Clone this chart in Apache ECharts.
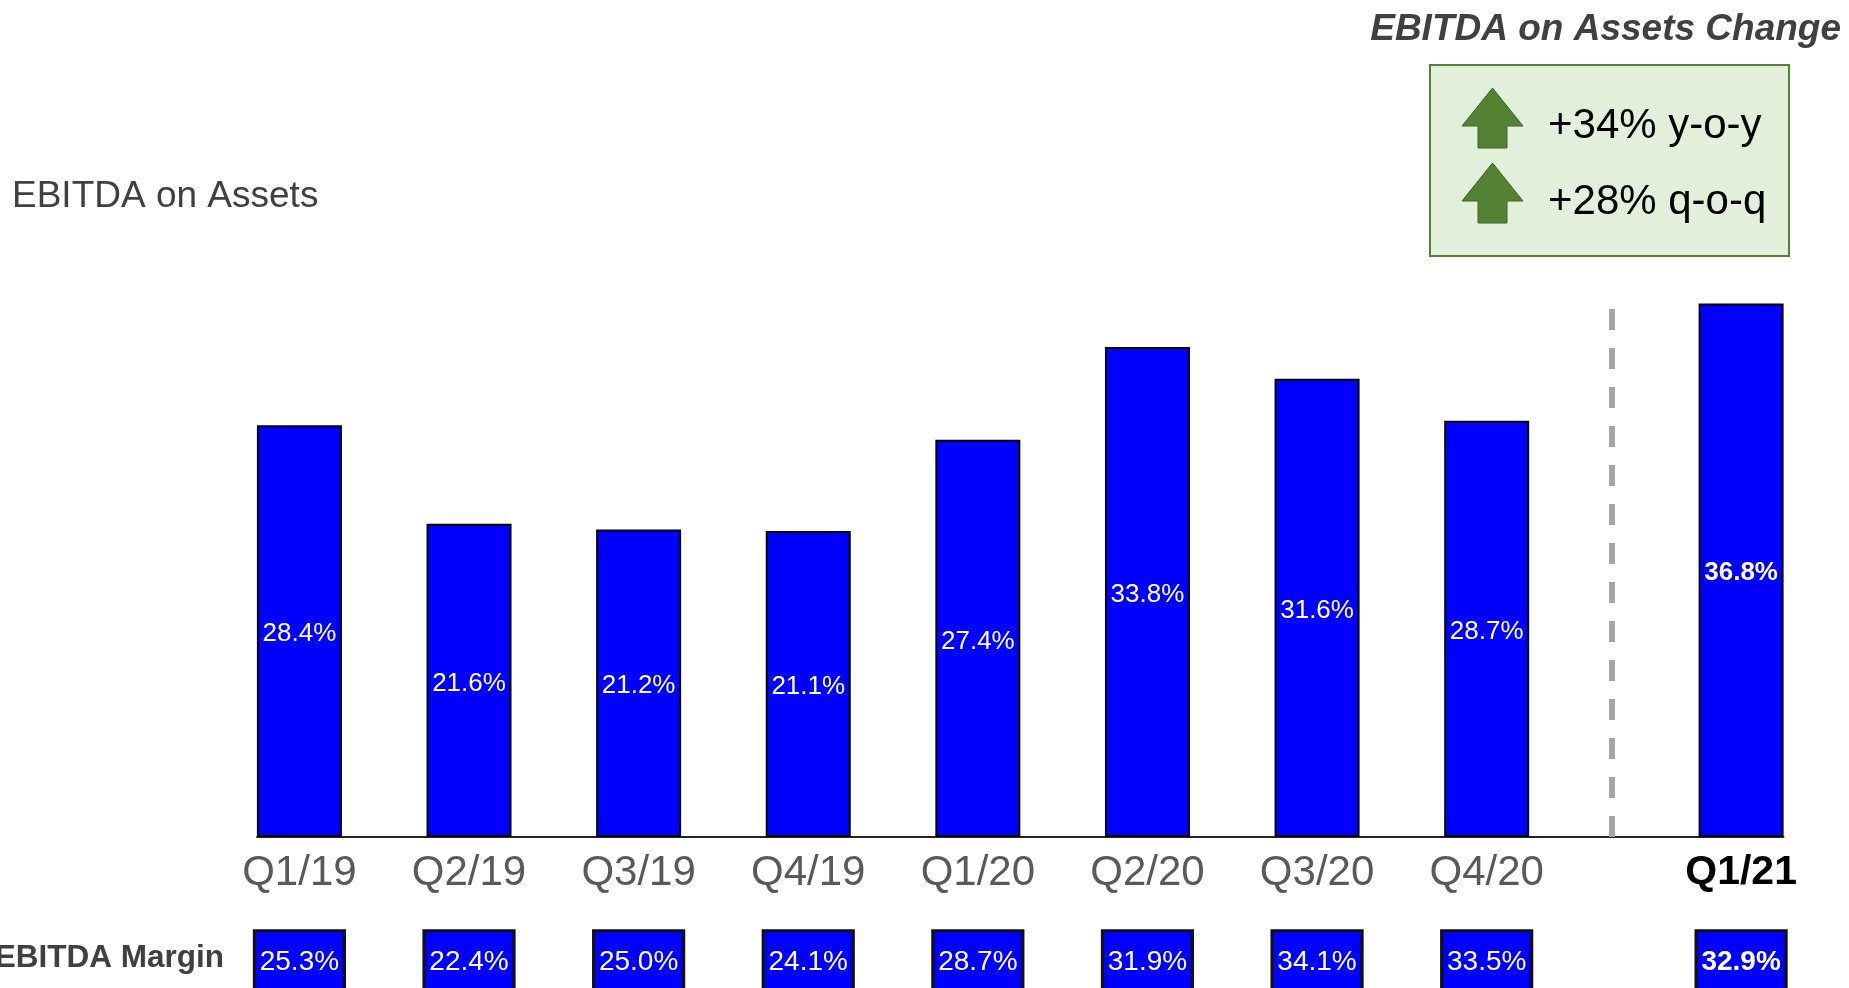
<!DOCTYPE html>
<html>
<head>
<meta charset="utf-8">
<script src="https://cdn.jsdelivr.net/npm/echarts@6/dist/echarts.min.js"></script>
<style>
html,body{margin:0;padding:0;background:#fff;}
#chart{width:1849px;height:988px;}
</style>
</head>
<body>
<div id="chart"></div>
<script>
// ---- data ----
var quarters = ['Q1/19','Q2/19','Q3/19','Q4/19','Q1/20','Q2/20','Q3/20','Q4/20','Q1/21'];
var ebitdaOnAssets = [28.4, 21.6, 21.2, 21.1, 27.4, 33.8, 31.6, 28.7, 36.8];
var ebitdaMargin = [25.3, 22.4, 25.0, 24.1, 28.7, 31.9, 34.1, 33.5, 32.9];
var changeLines = ['+34% y-o-y', '+28% q-o-q'];
var titleText = 'EBITDA on Assets';
var changeTitle = 'EBITDA on Assets Change';
var marginTitle = 'EBITDA Margin';

// ---- layout helpers ----
var CURRENT_GAP = 1.5; // current quarter is set apart from the history
var positions = quarters.map(function (q, i) {
  return i < quarters.length - 1 ? i : (quarters.length - 2) + CURRENT_GAP;
});
var lastIdx = quarters.length - 1;
var dividerX = positions[lastIdx - 1] + 0.49 * (positions[lastIdx] - positions[lastIdx - 1]);
var FONT = "'Liberation Sans', Arial, Helvetica, sans-serif";
var BLUE = '#0000FF';
var BOX_ROW_Y = 0.3; // vertical placement of the margin boxes inside their strip

function fmt(v) { return v.toFixed(1) + '%'; }

var barData = ebitdaOnAssets.map(function (v, i) {
  var item = { value: [positions[i], v] };
  if (i === lastIdx) item.label = { fontWeight: 'bold' };
  return item;
});
var marginData = ebitdaMargin.map(function (v, i) {
  var item = { value: [positions[i], BOX_ROW_Y], m: v };
  if (i === lastIdx) item.label = { fontWeight: 'bold' };
  return item;
});

var chart = echarts.init(document.getElementById('chart'), null, { renderer: 'canvas' });

var option = {
  backgroundColor: '#ffffff',
  animation: false,
  textStyle: { fontFamily: FONT },
  grid: [
    { left: 257, right: 65.5, top: 257, bottom: 151 },
    { left: 257, right: 65.5, top: 930, bottom: 0 }
  ],
  xAxis: [
    {
      type: 'value', gridIndex: 0, min: -0.25, max: 8.75,
      splitLine: { show: false },
      axisTick: { show: false },
      axisLine: { show: true, onZero: false, lineStyle: { color: '#262626', width: 2 } },
      axisLabel: {
        customValues: positions,
        margin: 15,
        fontSize: 42,
        color: '#595959',
        fontFamily: FONT,
        formatter: function (val) {
          var idx = -1;
          for (var k = 0; k < positions.length; k++) if (Math.abs(positions[k] - val) < 1e-6) idx = k;
          if (idx < 0) return '';
          return idx === lastIdx ? '{b|' + quarters[idx] + '}' : quarters[idx];
        },
        rich: { b: { fontSize: 41, fontWeight: 'bold', color: '#000000', fontFamily: FONT } }
      }
    },
    {
      type: 'value', gridIndex: 1, min: -0.25, max: 8.75, show: false,
      splitLine: { show: false }
    }
  ],
  yAxis: [
    { type: 'value', gridIndex: 0, min: 0, max: 40, show: false, splitLine: { show: false } },
    { type: 'value', gridIndex: 1, min: 0, max: 1, show: false, splitLine: { show: false } }
  ],
  series: [
    {
      type: 'bar',
      xAxisIndex: 0, yAxisIndex: 0,
      barWidth: 85,
      data: barData,
      itemStyle: { color: BLUE, borderColor: '#000000', borderWidth: 2 },
      label: {
        show: true, position: 'inside', color: '#ffffff', fontSize: 26, fontFamily: FONT,
        offset: [0, 3],
        formatter: function (p) { return fmt(p.value[1]); }
      },
      markLine: {
        silent: true, symbol: 'none',
        label: { show: false },
        lineStyle: { color: '#A6A6A6', width: 6, type: [21, 18], cap: 'butt' },
        data: [[
          { coord: [dividerX, 0] },
          { coord: [dividerX, Math.max.apply(null, ebitdaOnAssets) - 0.05] }
        ]]
      }
    },
    {
      type: 'scatter',
      xAxisIndex: 1, yAxisIndex: 1,
      symbol: 'rect',
      symbolSize: [90, 80],
      data: marginData,
      itemStyle: { color: BLUE, borderColor: '#111111', borderWidth: 3, opacity: 1 },
      label: {
        show: true, position: ['50%', 33], align: 'center', verticalAlign: 'middle',
        color: '#ffffff', fontSize: 28, fontFamily: FONT,
        formatter: function (p) { return fmt(p.data.m); }
      }
    }
  ],
  graphic: [
    {
      type: 'text', left: 12, top: 178,
      style: { text: titleText, fontSize: 37, fill: '#404040', fontFamily: FONT }
    },
    {
      type: 'text', right: 8, top: 11,
      style: { text: changeTitle, fontSize: 37, fontWeight: 'bold', fontStyle: 'italic', fill: '#404040', fontFamily: FONT }
    },
    {
      type: 'rect',
      shape: { x: 1430, y: 65, width: 359, height: 191 },
      style: { fill: '#E2EFDA', stroke: '#548235', lineWidth: 2 }
    },
    {
      type: 'polygon',
      shape: { points: [[1492.5, 88], [1523, 126], [1507, 126], [1507, 148], [1478, 148], [1478, 126], [1462, 126]] },
      style: { fill: '#548235', stroke: '#3C6424', lineWidth: 1 }
    },
    {
      type: 'polygon',
      shape: { points: [[1492.5, 163], [1523, 201], [1507, 201], [1507, 223], [1478, 223], [1478, 201], [1462, 201]] },
      style: { fill: '#548235', stroke: '#3C6424', lineWidth: 1 }
    },
    {
      type: 'text', left: 1548, top: 105.5,
      style: { text: changeLines[0], fontSize: 42, fill: '#000000', fontFamily: FONT }
    },
    {
      type: 'text', left: 1548, top: 181.5,
      style: { text: changeLines[1], fontSize: 42, fill: '#000000', fontFamily: FONT }
    },
    {
      type: 'text', right: 1849 - 224, top: 942,
      style: { text: marginTitle, fontSize: 31.5, fontWeight: 'bold', fill: '#404040', fontFamily: FONT, align: 'right' }
    }
  ]
};

chart.setOption(option);
</script>
</body>
</html>
